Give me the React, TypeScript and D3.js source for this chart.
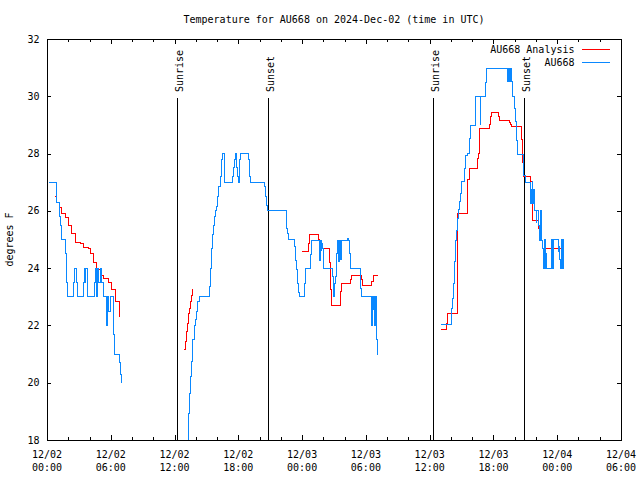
import React from 'react';
import * as d3 from 'd3';

// ---------- data ----------
const title = 'Temperature for AU668 on 2024-Dec-02 (time in UTC)';
const yAxisTitle = 'degrees F';
const legendLabels = ['AU668 Analysis', 'AU668'];

const xTickHours = [0, 6, 12, 18, 24, 30, 36, 42, 48, 54];
const xTickDates = ['12/02', '12/02', '12/02', '12/02', '12/03', '12/03', '12/03', '12/03', '12/04', '12/04'];
const xTickTimes = ['00:00', '06:00', '12:00', '18:00', '00:00', '06:00', '12:00', '18:00', '00:00', '06:00'];
const xMinorHours = [2, 4, 8, 10, 14, 16, 20, 22, 26, 28, 32, 34, 38, 40, 44, 46, 50, 52];
const yTicks = [18, 20, 22, 24, 26, 28, 30, 32];

const sunLabels = ['Sunrise', 'Sunset', 'Sunrise', 'Sunset'];
const sunHours = [12.25, 20.81, 36.32, 44.88];

// hours since 12/02 00:00 UTC, degrees F
const obs1: [number, number][] = [
  [0.22, 27.0], [0.86, 26.7], [0.94, 26.3], [1.15, 25.8], [1.3, 25.5], [1.4, 25.0], [1.78, 24.5],
  [1.88, 23.5], [1.94, 23.0], [2.49, 23.5], [2.59, 24.0], [2.82, 23.5], [2.91, 23.0], [3.39, 23.5],
  [3.49, 24.0], [3.59, 23.5], [3.66, 24.0], [3.78, 23.0], [4.45, 23.5], [4.54, 24.0], [4.68, 23.0],
  [4.76, 24.0], [4.88, 23.5], [5.01, 24.0], [5.17, 23.5], [5.32, 23.0], [5.64, 22.0], [5.72, 23.0],
  [5.82, 22.5], [5.95, 23.0], [6.22, 21.7], [6.32, 21.0], [6.8, 20.7], [6.89, 20.3], [7.02, 20.0],
  [7.06, 20.0],
];
const obs2: [number, number][] = [
  [13.22, 17.5], [13.31, 18.94], [13.41, 19.64], [13.54, 20.2], [13.63, 20.74], [13.73, 21.5],
  [13.85, 22.0], [14.01, 22.2], [14.1, 22.48], [14.2, 22.83], [14.33, 23.0], [15.26, 23.35],
  [15.36, 24.0], [15.45, 24.7], [15.55, 25.16], [15.64, 25.5], [15.73, 25.82], [15.82, 26.0],
  [15.98, 26.15], [16.07, 26.5], [16.17, 26.84], [16.29, 27.2], [16.39, 27.49], [16.45, 27.8],
  [16.55, 28.0], [16.71, 27.0], [17.48, 27.2], [17.55, 27.5], [17.64, 27.8], [17.74, 28.0],
  [17.83, 27.5], [17.93, 27.2], [17.99, 27.0], [18.12, 27.8], [18.21, 28.0], [18.96, 27.8],
  [19.05, 27.2], [19.15, 27.0], [20.5, 26.85], [20.59, 26.5], [20.69, 26.2], [20.78, 26.0],
  [22.56, 25.39], [22.64, 25.22], [22.72, 25.0], [23.29, 24.75], [23.38, 24.25], [23.51, 23.94],
  [23.6, 23.47], [23.7, 23.15], [23.79, 23.0], [24.22, 23.47], [24.32, 24.0], [24.76, 24.46],
  [24.86, 24.98], [25.63, 24.25], [25.73, 24.98], [25.79, 24.63], [25.86, 24.87], [25.92, 24.7],
  [26.01, 24.0], [26.89, 23.7], [26.98, 23.0], [27.08, 23.47], [27.17, 23.7], [27.27, 24.52],
  [27.36, 24.98], [27.46, 24.23], [27.55, 24.98], [27.65, 24.29], [27.74, 24.98], [28.27, 25.03],
  [28.36, 24.98], [28.46, 24.52], [28.55, 24.0], [29.46, 23.3], [29.55, 23.0], [30.49, 22.0],
  [30.58, 23.0], [30.65, 22.54], [30.71, 23.0], [30.8, 22.0], [30.9, 23.0], [30.99, 21.5],
  [31.09, 21.0], [31.18, 21.0],
];
const obs3: [number, number][] = [
  [37.08, 22.02], [38.02, 22.3], [38.08, 22.6], [38.18, 22.95], [38.27, 23.47], [38.33, 24.23],
  [38.46, 24.98], [38.55, 25.3], [38.61, 25.74], [38.7, 26.03], [38.8, 26.32], [38.89, 26.6],
  [39.02, 27.02], [39.27, 27.49], [39.33, 27.95], [39.59, 28.0], [39.74, 28.53], [39.84, 28.97],
  [40.27, 29.99], [40.74, 29.0], [40.81, 29.99], [41.24, 30.49], [41.34, 30.98], [43.35, 30.5],
  [43.41, 30.98], [43.5, 30.5], [43.6, 30.98], [43.66, 30.5], [43.79, 30.0], [43.97, 29.58],
  [44.03, 29.11], [44.13, 28.47], [44.22, 28.18], [44.28, 27.98], [44.82, 27.25], [44.98, 26.98],
  [45.51, 26.26], [45.57, 26.75], [45.63, 27.02], [45.69, 26.26], [45.76, 26.75], [45.82, 26.0],
  [46.01, 25.6], [46.07, 26.0], [46.23, 25.5], [46.33, 24.98], [46.39, 26.0], [46.48, 25.27],
  [46.55, 24.98], [46.64, 24.7], [46.7, 24.0], [46.79, 25.0], [46.89, 24.0], [46.95, 24.52],
  [47.01, 24.0], [47.48, 25.0], [47.58, 24.0], [47.64, 25.0], [48.11, 24.58], [48.2, 24.75],
  [48.26, 24.29], [48.33, 24.0], [48.42, 25.0], [48.51, 24.0], [48.58, 25.0], [48.6, 25.0],
];

const analysis1: [number, number][] = [
  [0.72, 26.5], [0.94, 26.3], [1.15, 26.1], [1.4, 25.9], [1.72, 25.78], [2.04, 25.5], [2.34, 25.2],
  [2.66, 24.9], [3.13, 24.85], [3.45, 24.73], [3.91, 24.67], [4.07, 24.5], [4.39, 24.2],
  [4.7, 23.94], [5.01, 23.76], [5.32, 23.65], [5.8, 23.5], [6.11, 23.24], [6.42, 22.83],
  [6.8, 22.3], [6.85, 22.3],
];
const analysis2: [number, number][] = [
  [12.91, 21.17], [13.01, 21.44], [13.1, 21.78], [13.22, 22.08], [13.31, 22.43], [13.41, 22.6],
  [13.5, 22.83], [13.6, 23.06], [13.69, 23.24], [13.76, 23.24],
];
const analysis3: [number, number][] = [
  [24.03, 24.58], [24.6, 24.87], [24.7, 25.16], [25.54, 25.0], [25.63, 24.85], [25.73, 24.7],
  [26.57, 24.2], [26.67, 23.24], [26.76, 22.68], [27.61, 23.18], [27.71, 23.47], [28.55, 23.6],
  [28.65, 23.75], [29.62, 23.59], [29.68, 23.41], [30.55, 23.53], [30.71, 23.75], [31.18, 23.75],
];
const analysis4: [number, number][] = [
  [37.08, 21.85], [37.54, 22.07], [37.7, 22.42], [38.61, 25.92], [39.55, 27.08], [39.74, 27.49],
  [40.52, 27.84], [40.58, 28.0], [40.68, 28.86], [41.62, 29.0], [41.72, 29.29], [41.81, 29.44],
  [42.46, 29.3], [42.56, 29.17], [43.5, 29.1], [43.6, 29.0], [43.69, 28.94], [44.63, 28.5],
  [44.72, 28.07], [44.78, 27.7], [44.82, 27.2], [45.51, 27.02], [45.66, 25.65], [46.23, 25.4],
  [46.39, 25.2], [46.55, 24.98], [46.61, 24.7], [48.58, 24.7], [48.6, 24.98],
];

const obsSegments = [obs1, obs2, obs3];
const analysisSegments = [analysis1, analysis2, analysis3, analysis4];

// ---------- layout ----------
const W = 640;
const H = 480;
const L = 47;
const R = 621;
const T = 39;
const B = 440;
const FONT = '"DejaVu Sans Mono", monospace';
const RED = '#ff0000';
const BLUE = '#0a88ff';

export default function App() {
  const x = d3.scaleLinear().domain([0, 54]).range([L, R]);
  const y = d3.scaleLinear().domain([18, 32]).range([B, T]);
  const line = d3
    .line<[number, number]>()
    .x((d) => x(d[0]))
    .y((d) => y(d[1]))
    .curve(d3.curveStepAfter);

  const px = (v: number) => Math.round(v) + 0.5;

  return (
    <svg
      width={W}
      height={H}
      style={{ position: 'absolute', left: 0, top: 0, background: '#fff' }}
      fontFamily={FONT}
      fontSize={10}
    >
      <defs>
        <clipPath id="plot">
          <rect x={L} y={T} width={R - L} height={B - T} />
        </clipPath>
      </defs>
      <rect x={0} y={0} width={W} height={H} fill="#fff" />

      <text x={(L + R) / 2} y={22.5} textAnchor="middle" fill="#000">
        {title}
      </text>

      {/* sunrise / sunset lines */}
      {sunHours.map((h, i) => (
        <g key={'sun' + i}>
          <line
            x1={px(x(h))}
            x2={px(x(h))}
            y1={98}
            y2={B}
            stroke="#000"
            strokeWidth={1}
            shapeRendering="crispEdges"
          />
          <text transform={`translate(${x(h) + 6},92) rotate(-90)`} textAnchor="start" fill="#000">
            {sunLabels[i]}
          </text>
        </g>
      ))}

      {/* data */}
      <g clipPath="url(#plot)" fill="none" strokeWidth={1}>
        {analysisSegments.map((s, i) => (
          <path key={'a' + i} d={line(s) || ''} stroke={RED} shapeRendering="crispEdges" />
        ))}
        {obsSegments.map((s, i) => (
          <path key={'o' + i} d={line(s) || ''} stroke={BLUE} shapeRendering="crispEdges" />
        ))}
      </g>

      {/* frame */}
      <rect
        x={L + 0.5}
        y={T + 0.5}
        width={R - L}
        height={B - T}
        fill="none"
        stroke="#000"
        strokeWidth={1}
        shapeRendering="crispEdges"
      />

      {/* y ticks */}
      {yTicks.map((v) => (
        <g key={'y' + v}>
          <line x1={L} x2={L + 4} y1={px(y(v))} y2={px(y(v))} stroke="#000" shapeRendering="crispEdges" />
          <line x1={R - 4} x2={R} y1={px(y(v))} y2={px(y(v))} stroke="#000" shapeRendering="crispEdges" />
          <text x={39.5} y={y(v)} dy="0.35em" textAnchor="end" fill="#000">
            {v}
          </text>
        </g>
      ))}

      {/* x ticks */}
      {xTickHours.map((h, i) => (
        <g key={'x' + h}>
          <line x1={px(x(h))} x2={px(x(h))} y1={B} y2={B - 5} stroke="#000" shapeRendering="crispEdges" />
          <line x1={px(x(h))} x2={px(x(h))} y1={T} y2={T + 5} stroke="#000" shapeRendering="crispEdges" />
          <text x={x(h)} y={457.5} textAnchor="middle" fill="#000">
            {xTickDates[i]}
          </text>
          <text x={x(h)} y={471} textAnchor="middle" fill="#000">
            {xTickTimes[i]}
          </text>
        </g>
      ))}
      {xMinorHours.map((h) => (
        <g key={'m' + h}>
          <line x1={px(x(h))} x2={px(x(h))} y1={B} y2={B - 3} stroke="#000" shapeRendering="crispEdges" />
          <line x1={px(x(h))} x2={px(x(h))} y1={T} y2={T + 3} stroke="#000" shapeRendering="crispEdges" />
        </g>
      ))}

      {/* y axis title */}
      <text transform={`translate(13,${(T + B) / 2}) rotate(-90)`} textAnchor="middle" fill="#000">
        {yAxisTitle}
      </text>

      {/* legend */}
      {legendLabels.map((lab, i) => (
        <g key={'lg' + i}>
          <text x={574.5} y={49.5 + i * 13} dy="0.35em" textAnchor="end" fill="#000">
            {lab}
          </text>
          <line
            x1={582}
            x2={610}
            y1={49.5 + i * 13}
            y2={49.5 + i * 13}
            stroke={i === 0 ? RED : BLUE}
            shapeRendering="crispEdges"
          />
        </g>
      ))}
    </svg>
  );
}
